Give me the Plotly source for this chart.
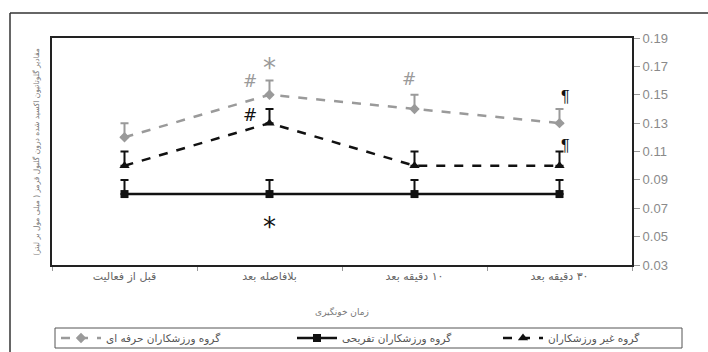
import plotly.graph_objects as go

categories = ["قبل از فعالیت", "بلافاصله بعد", "۱۰ دقیقه بعد", "۳۰ دقیقه بعد"]
professional = [0.12, 0.15, 0.14, 0.13]
professional_err = [0.01, 0.01, 0.01, 0.01]
recreational = [0.08, 0.08, 0.08, 0.08]
recreational_err = [0.01, 0.01, 0.01, 0.01]
non_athletes = [0.10, 0.13, 0.10, 0.10]
non_athletes_err = [0.01, 0.01, 0.01, 0.01]
y_ticks = [0.03, 0.05, 0.07, 0.09, 0.11, 0.13, 0.15, 0.17, 0.19]

names = ["گروه ورزشکاران حرفه ای", "گروه ورزشکاران تفریحی", "گروه غیر ورزشکاران"]


def rtl(s):
    return "\u202b" + s + "\u202c"


def px(xp):
    return (xp - 52) / 580


def py(yp):
    return (265 - yp) / 227


GRAY = "#9a9a9a"
BLACK = "#111111"
FONT = "DejaVu Sans"

fig = go.Figure()
series = [
    (professional, professional_err, names[0], GRAY, "dash", "diamond", 8, "legend"),
    (recreational, recreational_err, names[1], BLACK, "solid", "square", 8, "legend2"),
    (non_athletes, non_athletes_err, names[2], BLACK, "dash", "triangle-up", 9, "legend3"),
]
for vals, err, name, col, dash, sym, ms, lg in series:
    fig.add_trace(go.Scatter(
        x=[rtl(c) for c in categories], y=vals, name=rtl(name), mode="lines+markers",
        line=dict(color=col, width=2.5, dash=dash),
        marker=dict(symbol=sym, size=ms, color=col),
        error_y=dict(type="data", symmetric=False, array=err,
                     arrayminus=[0] * len(err), color=col,
                     thickness=2, width=4),
        legend=lg,
    ))

# significance marks
marks = [
    (1, professional[1] + professional_err[1], "*", GRAY, 26, 0, 13),
    (1, professional[1] + professional_err[1], "#", GRAY, 17, -20, 0),
    (1, non_athletes[1] + non_athletes_err[1], "#", BLACK, 17, -20, -6),
    (1, recreational[1], "*", BLACK, 26, 0, -33),
    (2, professional[2] + professional_err[2], "#", GRAY, 17, -6, 16),
    (3, professional[3] + professional_err[3], "¶", BLACK, 16, 6, 12),
    (3, non_athletes[3] + non_athletes_err[3], "¶", BLACK, 16, 6, 6),
]
for xi, yv, txt, col, sz, dx, dy in marks:
    fam = "Liberation Sans" if txt == "¶" else "DejaVu Sans"
    fig.add_annotation(x=rtl(categories[xi]), y=yv, text=txt, showarrow=False,
                       xshift=dx, yshift=dy,
                       font=dict(family=fam, size=sz, color=col))

# left rotated axis title
fig.add_annotation(xref="paper", yref="paper", x=-0.027, y=0.5,
                   xanchor="center", yanchor="middle",
                   text=rtl("مقادیر گلوتاتیون اکسید شده درون گلبول قرمز ( میلی مول بر لیتر)"),
                   textangle=-90, showarrow=False,
                   font=dict(family=FONT, size=7.5, color="#777777"))

# outer frame
fig.add_shape(type="line", xref="paper", yref="paper",
              x0=px(10), x1=1.3, y0=py(13), y1=py(13),
              line=dict(color="#333333", width=1.5))
fig.add_shape(type="line", xref="paper", yref="paper",
              x0=px(10), x1=px(10), y0=py(13), y1=-0.5,
              line=dict(color="#333333", width=1.5))
# legend box
fig.add_shape(type="rect", xref="paper", yref="paper",
              x0=px(55), x1=px(682), y0=py(328), y1=py(348),
              line=dict(color="#555555", width=1))

leg_common = dict(orientation="h", xref="container", yref="container",
                  y=1 - 338 / 352, xanchor="left", yanchor="middle",
                  bgcolor="rgba(0,0,0,0)", borderwidth=0,
                  font=dict(family=FONT, size=10.5, color="#555555"),
                  itemwidth=40)

fig.update_layout(
    width=708, height=352,
    margin=dict(l=52, r=76, t=38, b=87, autoexpand=False),
    paper_bgcolor="white", plot_bgcolor="white",
    showlegend=True,
    legend=dict(x=56 / 708, **leg_common),
    legend2=dict(x=292 / 708, **leg_common),
    legend3=dict(x=498 / 708, **leg_common),
    font=dict(family=FONT),
)
fig.update_xaxes(
    type="category", range=[-0.5, 3.5], tickson="boundaries",
    ticks="outside", ticklen=4, tickcolor="#999999",
    showline=True, linecolor="#222222", linewidth=2, mirror=True,
    showgrid=False, tickfont=dict(family=FONT, size=11, color="#666666"),
    title=dict(text=rtl("زمان خونگیری"), font=dict(family=FONT, size=9, color="#777777"),
               standoff=26),
)
fig.update_yaxes(
    side="right", range=[0.03, 0.19], tickvals=y_ticks,
    ticktext=[f"{v:.2f}" for v in y_ticks],
    ticks="outside", ticklen=6, tickcolor="#999999",
    showline=True, linecolor="#222222", linewidth=2, mirror=True,
    showgrid=False, zeroline=False,
    tickfont=dict(family="Liberation Sans", size=13, color="#8a8a8a"),
)

fig.write_html("out.html")
